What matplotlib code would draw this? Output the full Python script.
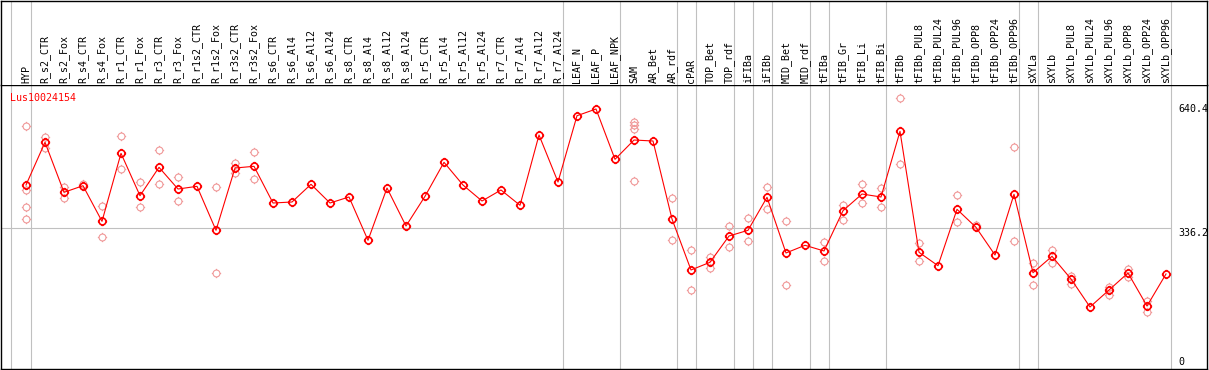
import matplotlib
matplotlib.use("Agg")
import matplotlib.pyplot as plt
from matplotlib.path import Path

# tissue names, in plotting order
tissues = [
    "HYP", "R_s2_CTR", "R_s2_Fox", "R_s4_CTR", "R_s4_Fox", "R_r1_CTR",
    "R_r1_Fox", "R_r3_CTR", "R_r3_Fox", "R_r1s2_CTR", "R_r1s2_Fox",
    "R_r3s2_CTR", "R_r3s2_Fox", "R_s6_CTR", "R_s6_Al4", "R_s6_Al12",
    "R_s6_Al24", "R_s8_CTR", "R_s8_Al4", "R_s8_Al12", "R_s8_Al24",
    "R_r5_CTR", "R_r5_Al4", "R_r5_Al12", "R_r5_Al24", "R_r7_CTR",
    "R_r7_Al4", "R_r7_Al12", "R_r7_Al24", "LEAF_N", "LEAF_P", "LEAF_NPK",
    "SAM", "AR_Bet", "AR_rdf", "cPAR", "TOP_Bet", "TOP_rdf", "iFIBa",
    "iFIBb", "MID_Bet", "MID_rdf", "tFIBa", "tFIB_Gr", "tFIB_Li", "tFIB_Bi",
    "tFIBb", "tFIBb_PUL8", "tFIBb_PUL24", "tFIBb_PUL96", "tFIBb_OPP8",
    "tFIBb_OPP24", "tFIBb_OPP96", "sXYLa", "sXYLb", "sXYLb_PUL8",
    "sXYLb_PUL24", "sXYLb_PUL96", "sXYLb_OPP8", "sXYLb_OPP24", "sXYLb_OPP96",
]

# mean expression per tissue
means = [
    442.5, 547.5, 424.6, 440.8, 353.3, 520.4, 416.2, 486.0, 432.7, 439.3,
    331.2, 484.3, 488.5, 398.3, 400.8, 444.3, 398.3, 413.1, 306.7, 435.2,
    341.8, 414.8, 498.3, 442.5, 403.2, 430.3, 392.7, 565.4, 449.9, 612.8,
    629.3, 505.7, 553.1, 550.7, 359.0, 233.7, 252.6, 317.2, 331.2, 412.3,
    275.5, 294.4, 280.4, 379.4, 420.4, 413.1, 574.5, 277.2, 244.2, 382.8,
    338.6, 270.5, 419.7, 227.0, 267.3, 211.6, 142.8, 184.5, 226.3, 145.2,
    223.9,
]

# individual replicates (those that are visible)
replicates = [
    [587.5, 430.3, 387.7, 358.3], [561.2, 532.7], [438.4, 411.3], [445.0],
    [390.9, 314.8], [562.9, 481.1], [449.2, 387.7], [528.5, 444.3],
    [461.5, 403.2], [], [438.4, 225.6], [497.3, 471.3], [523.6, 457.3],
    [], [], [], [], [], [], [], [], [], [], [], [], [], [], [], [], [], [], [],
    [597.3, 590.7, 579.4, 452.4], [], [409.9, 306.7], [282.1, 183.8],
    [266.4, 239.3], [341.8, 289.5], [361.5, 304.2], [436.9, 384.3],
    [353.3, 196.1], [], [301.7, 255.1], [392.7, 357.3], [444.3, 397.6],
    [435.2, 388.5], [655.6, 494.1], [299.3, 255.1], [], [417.2, 350.9],
    [345.0], [], [535.2, 304.2], [250.9, 196.1], [282.8, 250.1],
    [219.7, 200.0], [], [192.6, 173.0], [235.4, 217.2], [158.2, 129.7], [],
]

# index of the last tissue of each group
group_ends = [0, 28, 31, 34, 35, 37, 38, 39, 41, 42, 45, 52, 53, 60]

title = "Lus10024154"
level_values = [640.4, 336.2, 0]
level_labels = ["640.4", "336.2", "0"]

MONO = "DejaVu Sans Mono"
FS = 7.2
GREY = "#c0c0c0"
PINK = "#f09898"

# circle with four small ticks, like the original marker
circ = Path.unit_circle()
t0, t1 = 1.05, 1.35
ticks = Path([(t0, 0), (t1, 0), (-t0, 0), (-t1, 0), (0, t0), (0, t1), (0, -t0), (0, -t1)],
             [Path.MOVETO, Path.LINETO] * 4)
marker = Path.make_compound_path(circ, ticks)

W, H = 1209, 370
fig = plt.figure(figsize=(W / 100, H / 100), dpi=100)
left, width = 1 / W, 1206 / W
ax = fig.add_axes([left, 1 / H, width, 284 / H])
lab = fig.add_axes([left, 285 / H, width, 84.5 / H])

xlim = ((1 - 26) / 19, (1207 - 26) / 19)
for a in (ax, lab):
    a.set_xlim(*xlim)
    a.set_xticks([])
    a.set_yticks([])
    for s in a.spines.values():
        s.set_color("black")
        s.set_linewidth(1.0)
lab.spines["bottom"].set_visible(False)
lab.set_ylim(0, 1)
ax.set_ylim(-9.6, 688.3)

separators = [-0.8] + [g + 0.25 for g in group_ends]
for sx in separators:
    ax.axvline(sx, color=GREY, lw=0.8, zorder=0)
    lab.axvline(sx, color=GREY, lw=0.8, zorder=0)
ax.hlines(level_values[1], xlim[0], separators[-1], color=GREY, lw=0.8, zorder=0)

xs = list(range(len(tissues)))
rx = [i for i, reps in enumerate(replicates) for _ in reps]
ry = [v for reps in replicates for v in reps]
ax.plot(rx, ry, linestyle="none", marker=marker, ms=6.7, mec=PINK,
        mfc="none", mew=0.8, zorder=2)
ax.plot(xs, means, color="red", lw=0.8, marker=marker, ms=6.7, mec="red",
        mfc="none", mew=1.2, zorder=3)

ax.text(9 / 1206, (369 - 100.7) / 284, title, transform=ax.transAxes,
        color="red", fontsize=FS, family=MONO, ha="left", va="baseline")

for v, s in zip(level_values, level_labels):
    ax.text(60.63, v, s, fontsize=FS, family=MONO, ha="left",
            va="top" if v > 0 else "baseline")

for i, name in enumerate(tissues):
    lab.text(i, 0.025, name, rotation=90, ha="center", va="bottom",
             fontsize=FS, family=MONO)

fig.savefig("out.png", dpi=100)
